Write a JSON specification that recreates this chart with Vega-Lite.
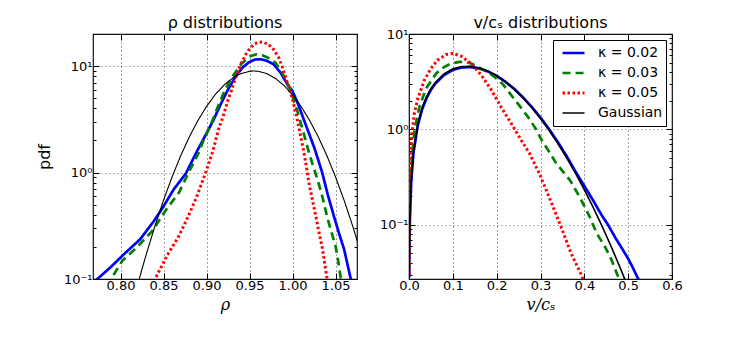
{
  "$schema": "https://vega.github.io/schema/vega-lite/v6.json",
  "autosize": {"type": "none"},
  "padding": {"left": 93, "top": 34, "right": 654, "bottom": 316},
  "spacing": 52,
  "bounds": "flush",
  "config": {
    "font": "DejaVu Sans",
    "view": {"stroke": "#111", "strokeWidth": 1.2},
    "axis": {"domain": false, "labelFont": "DejaVu Sans", "labelFontSize": 13, "labelColor": "#000", "tickColor": "#000", "tickSize": -5, "gridColor": "#000", "gridDash": [1, 3], "gridOpacity": 0.75, "gridWidth": 1, "titleFontWeight": "normal", "titleColor": "#000", "labelOverlap": false, "labelFlush": false},
    "axisX": {"labelPadding": 6},
    "axisY": {"labelPadding": 7},
    "legend": {"title": null, "orient": "top-right", "offset": 6, "strokeColor": "#000", "fillColor": "#fff", "padding": 3, "labelFont": "DejaVu Sans", "labelFontSize": 14, "labelColor": "#000", "symbolType": "stroke", "symbolSize": 484, "symbolOffset": 5, "labelOffset": 12, "clipHeight": 20, "rowPadding": 0, "cornerRadius": 0, "labelExpr": "datum.label + '\u2002'"},
    "title": {"font": "DejaVu Sans", "fontSize": 16, "fontWeight": "normal", "color": "#000", "offset": -3, "baseline": "alphabetic"}
  },
  "datasets": {
    "rho": [
      {"s": "κ = 0.02", "x": 0.765, "y": 0.085}, {"s": "κ = 0.02", "x": 0.773, "y": 0.1}, {"s": "κ = 0.02", "x": 0.788, "y": 0.128}, {"s": "κ = 0.02", "x": 0.804, "y": 0.171}, {"s": "κ = 0.02", "x": 0.823, "y": 0.237}, {"s": "κ = 0.02", "x": 0.839, "y": 0.352}, {"s": "κ = 0.02", "x": 0.848, "y": 0.453}, {"s": "κ = 0.02", "x": 0.862, "y": 0.697}, {"s": "κ = 0.02", "x": 0.876, "y": 0.98}, {"s": "κ = 0.02", "x": 0.889, "y": 1.59}, {"s": "κ = 0.02", "x": 0.899, "y": 2.25}, {"s": "κ = 0.02", "x": 0.9085, "y": 3.16}, {"s": "κ = 0.02", "x": 0.916, "y": 4.3}, {"s": "κ = 0.02", "x": 0.924, "y": 5.8}, {"s": "κ = 0.02", "x": 0.934, "y": 8.06}, {"s": "κ = 0.02", "x": 0.942, "y": 9.7}, {"s": "κ = 0.02", "x": 0.949, "y": 10.8}, {"s": "κ = 0.02", "x": 0.956, "y": 11.5}, {"s": "κ = 0.02", "x": 0.963, "y": 11.6}, {"s": "κ = 0.02", "x": 0.97, "y": 11.2}, {"s": "κ = 0.02", "x": 0.978, "y": 10.4}, {"s": "κ = 0.02", "x": 0.986, "y": 8.7}, {"s": "κ = 0.02", "x": 0.994, "y": 6.74}, {"s": "κ = 0.02", "x": 1.0, "y": 5.83}, {"s": "κ = 0.02", "x": 1.007, "y": 4.3}, {"s": "κ = 0.02", "x": 1.013, "y": 3.16}, {"s": "κ = 0.02", "x": 1.019, "y": 2.35}, {"s": "κ = 0.02", "x": 1.026, "y": 1.65}, {"s": "κ = 0.02", "x": 1.0345, "y": 1.0}, {"s": "κ = 0.02", "x": 1.041, "y": 0.62}, {"s": "κ = 0.02", "x": 1.048, "y": 0.392}, {"s": "κ = 0.02", "x": 1.054, "y": 0.27}, {"s": "κ = 0.02", "x": 1.06, "y": 0.19}, {"s": "κ = 0.02", "x": 1.0674, "y": 0.103}, {"s": "κ = 0.02", "x": 1.07, "y": 0.088},
      {"s": "κ = 0.03", "x": 0.785, "y": 0.085}, {"s": "κ = 0.03", "x": 0.79, "y": 0.103}, {"s": "κ = 0.03", "x": 0.802, "y": 0.148}, {"s": "κ = 0.03", "x": 0.819, "y": 0.198}, {"s": "κ = 0.03", "x": 0.837, "y": 0.283}, {"s": "κ = 0.03", "x": 0.852, "y": 0.436}, {"s": "κ = 0.03", "x": 0.868, "y": 0.649}, {"s": "κ = 0.03", "x": 0.881, "y": 1.07}, {"s": "κ = 0.03", "x": 0.891, "y": 1.54}, {"s": "κ = 0.03", "x": 0.897, "y": 2.05}, {"s": "κ = 0.03", "x": 0.905, "y": 2.8}, {"s": "κ = 0.03", "x": 0.912, "y": 3.93}, {"s": "κ = 0.03", "x": 0.92, "y": 5.6}, {"s": "κ = 0.03", "x": 0.926, "y": 7.0}, {"s": "κ = 0.03", "x": 0.932, "y": 8.36}, {"s": "κ = 0.03", "x": 0.941, "y": 10.6}, {"s": "κ = 0.03", "x": 0.951, "y": 12.4}, {"s": "κ = 0.03", "x": 0.958, "y": 12.9}, {"s": "κ = 0.03", "x": 0.965, "y": 12.6}, {"s": "κ = 0.03", "x": 0.972, "y": 11.9}, {"s": "κ = 0.03", "x": 0.98, "y": 10.8}, {"s": "κ = 0.03", "x": 0.987, "y": 9.0}, {"s": "κ = 0.03", "x": 0.994, "y": 6.98}, {"s": "κ = 0.03", "x": 1.0, "y": 5.2}, {"s": "κ = 0.03", "x": 1.005, "y": 3.93}, {"s": "κ = 0.03", "x": 1.01, "y": 2.85}, {"s": "κ = 0.03", "x": 1.015, "y": 2.05}, {"s": "κ = 0.03", "x": 1.019, "y": 1.55}, {"s": "κ = 0.03", "x": 1.024, "y": 1.15}, {"s": "κ = 0.03", "x": 1.029, "y": 0.866}, {"s": "κ = 0.03", "x": 1.035, "y": 0.58}, {"s": "κ = 0.03", "x": 1.04, "y": 0.392}, {"s": "κ = 0.03", "x": 1.045, "y": 0.28}, {"s": "κ = 0.03", "x": 1.05, "y": 0.205}, {"s": "κ = 0.03", "x": 1.053, "y": 0.15}, {"s": "κ = 0.03", "x": 1.056, "y": 0.103}, {"s": "κ = 0.03", "x": 1.058, "y": 0.085},
      {"s": "κ = 0.05", "x": 0.838, "y": 0.085}, {"s": "κ = 0.05", "x": 0.841, "y": 0.103}, {"s": "κ = 0.05", "x": 0.854, "y": 0.165}, {"s": "κ = 0.05", "x": 0.868, "y": 0.254}, {"s": "κ = 0.05", "x": 0.879, "y": 0.392}, {"s": "κ = 0.05", "x": 0.889, "y": 0.603}, {"s": "κ = 0.05", "x": 0.899, "y": 1.0}, {"s": "κ = 0.05", "x": 0.907, "y": 1.55}, {"s": "κ = 0.05", "x": 0.914, "y": 2.55}, {"s": "κ = 0.05", "x": 0.92, "y": 3.5}, {"s": "κ = 0.05", "x": 0.924, "y": 4.54}, {"s": "κ = 0.05", "x": 0.928, "y": 5.6}, {"s": "κ = 0.05", "x": 0.934, "y": 7.8}, {"s": "κ = 0.05", "x": 0.94, "y": 10.5}, {"s": "κ = 0.05", "x": 0.946, "y": 13.0}, {"s": "κ = 0.05", "x": 0.951, "y": 14.9}, {"s": "κ = 0.05", "x": 0.956, "y": 16.2}, {"s": "κ = 0.05", "x": 0.961, "y": 16.8}, {"s": "κ = 0.05", "x": 0.966, "y": 16.7}, {"s": "κ = 0.05", "x": 0.972, "y": 16.0}, {"s": "κ = 0.05", "x": 0.978, "y": 14.3}, {"s": "κ = 0.05", "x": 0.984, "y": 12.0}, {"s": "κ = 0.05", "x": 0.989, "y": 9.4}, {"s": "κ = 0.05", "x": 0.994, "y": 6.98}, {"s": "κ = 0.05", "x": 1.0, "y": 4.87}, {"s": "κ = 0.05", "x": 1.004, "y": 3.6}, {"s": "κ = 0.05", "x": 1.007, "y": 2.74}, {"s": "κ = 0.05", "x": 1.01, "y": 2.1}, {"s": "κ = 0.05", "x": 1.013, "y": 1.6}, {"s": "κ = 0.05", "x": 1.016, "y": 1.15}, {"s": "κ = 0.05", "x": 1.019, "y": 0.806}, {"s": "κ = 0.05", "x": 1.023, "y": 0.56}, {"s": "κ = 0.05", "x": 1.027, "y": 0.392}, {"s": "κ = 0.05", "x": 1.031, "y": 0.27}, {"s": "κ = 0.05", "x": 1.035, "y": 0.19}, {"s": "κ = 0.05", "x": 1.038, "y": 0.13}, {"s": "κ = 0.05", "x": 1.04, "y": 0.103}, {"s": "κ = 0.05", "x": 1.042, "y": 0.085},
      {"s": "Gaussian", "x": 0.815, "y": 0.0624}, {"s": "Gaussian", "x": 0.82, "y": 0.0884}, {"s": "Gaussian", "x": 0.825, "y": 0.124}, {"s": "Gaussian", "x": 0.83, "y": 0.171}, {"s": "Gaussian", "x": 0.84, "y": 0.314}, {"s": "Gaussian", "x": 0.85, "y": 0.549}, {"s": "Gaussian", "x": 0.86, "y": 0.911}, {"s": "Gaussian", "x": 0.87, "y": 1.439}, {"s": "Gaussian", "x": 0.88, "y": 2.159}, {"s": "Gaussian", "x": 0.89, "y": 3.079}, {"s": "Gaussian", "x": 0.9, "y": 4.174}, {"s": "Gaussian", "x": 0.91, "y": 5.38}, {"s": "Gaussian", "x": 0.92, "y": 6.589}, {"s": "Gaussian", "x": 0.93, "y": 7.672}, {"s": "Gaussian", "x": 0.94, "y": 8.491}, {"s": "Gaussian", "x": 0.95, "y": 8.933}, {"s": "Gaussian", "x": 0.955, "y": 8.99}, {"s": "Gaussian", "x": 0.96, "y": 8.933}, {"s": "Gaussian", "x": 0.97, "y": 8.491}, {"s": "Gaussian", "x": 0.98, "y": 7.672}, {"s": "Gaussian", "x": 0.99, "y": 6.589}, {"s": "Gaussian", "x": 1.0, "y": 5.38}, {"s": "Gaussian", "x": 1.01, "y": 4.174}, {"s": "Gaussian", "x": 1.02, "y": 3.079}, {"s": "Gaussian", "x": 1.03, "y": 2.159}, {"s": "Gaussian", "x": 1.04, "y": 1.439}, {"s": "Gaussian", "x": 1.05, "y": 0.911}, {"s": "Gaussian", "x": 1.06, "y": 0.549}, {"s": "Gaussian", "x": 1.07, "y": 0.314}, {"s": "Gaussian", "x": 1.08, "y": 0.171}
    ],
    "vel": [
      {"s": "κ = 0.02", "x": 0.0005, "y": 0.028}, {"s": "κ = 0.02", "x": 0.001, "y": 0.056}, {"s": "κ = 0.02", "x": 0.002, "y": 0.11}, {"s": "κ = 0.02", "x": 0.005, "y": 0.28}, {"s": "κ = 0.02", "x": 0.01, "y": 0.56}, {"s": "κ = 0.02", "x": 0.02, "y": 1.1}, {"s": "κ = 0.02", "x": 0.03, "y": 1.63}, {"s": "κ = 0.02", "x": 0.04, "y": 2.13}, {"s": "κ = 0.02", "x": 0.05, "y": 2.6}, {"s": "κ = 0.02", "x": 0.06, "y": 3.02}, {"s": "κ = 0.02", "x": 0.08, "y": 3.72}, {"s": "κ = 0.02", "x": 0.1, "y": 4.2}, {"s": "κ = 0.02", "x": 0.12, "y": 4.45}, {"s": "κ = 0.02", "x": 0.14, "y": 4.5}, {"s": "κ = 0.02", "x": 0.16, "y": 4.36}, {"s": "κ = 0.02", "x": 0.18, "y": 4.05}, {"s": "κ = 0.02", "x": 0.2, "y": 3.64}, {"s": "κ = 0.02", "x": 0.22, "y": 3.16}, {"s": "κ = 0.02", "x": 0.24, "y": 2.66}, {"s": "κ = 0.02", "x": 0.26, "y": 2.17}, {"s": "κ = 0.02", "x": 0.28, "y": 1.72}, {"s": "κ = 0.02", "x": 0.3, "y": 1.33}, {"s": "κ = 0.02", "x": 0.32, "y": 1.0}, {"s": "κ = 0.02", "x": 0.34, "y": 0.73}, {"s": "κ = 0.02", "x": 0.36, "y": 0.52}, {"s": "κ = 0.02", "x": 0.38, "y": 0.36}, {"s": "κ = 0.02", "x": 0.4, "y": 0.255}, {"s": "κ = 0.02", "x": 0.42, "y": 0.18}, {"s": "κ = 0.02", "x": 0.44, "y": 0.125}, {"s": "κ = 0.02", "x": 0.454, "y": 0.1}, {"s": "κ = 0.02", "x": 0.47, "y": 0.074}, {"s": "κ = 0.02", "x": 0.488, "y": 0.0545}, {"s": "κ = 0.02", "x": 0.5, "y": 0.044}, {"s": "κ = 0.02", "x": 0.51, "y": 0.036}, {"s": "κ = 0.02", "x": 0.523, "y": 0.027}, {"s": "κ = 0.02", "x": 0.53, "y": 0.024},
      {"s": "κ = 0.03", "x": 0.0005, "y": 0.035}, {"s": "κ = 0.03", "x": 0.001, "y": 0.07}, {"s": "κ = 0.03", "x": 0.002, "y": 0.15}, {"s": "κ = 0.03", "x": 0.005, "y": 0.4}, {"s": "κ = 0.03", "x": 0.0123, "y": 0.98}, {"s": "κ = 0.03", "x": 0.0238, "y": 1.72}, {"s": "κ = 0.03", "x": 0.039, "y": 2.69}, {"s": "κ = 0.03", "x": 0.05, "y": 3.2}, {"s": "κ = 0.03", "x": 0.062, "y": 3.86}, {"s": "κ = 0.03", "x": 0.08, "y": 4.5}, {"s": "κ = 0.03", "x": 0.096, "y": 4.91}, {"s": "κ = 0.03", "x": 0.115, "y": 5.1}, {"s": "κ = 0.03", "x": 0.13, "y": 5.1}, {"s": "κ = 0.03", "x": 0.145, "y": 4.85}, {"s": "κ = 0.03", "x": 0.157, "y": 4.52}, {"s": "κ = 0.03", "x": 0.175, "y": 4.1}, {"s": "κ = 0.03", "x": 0.195, "y": 3.56}, {"s": "κ = 0.03", "x": 0.215, "y": 2.95}, {"s": "κ = 0.03", "x": 0.233, "y": 2.29}, {"s": "κ = 0.03", "x": 0.255, "y": 1.7}, {"s": "κ = 0.03", "x": 0.271, "y": 1.36}, {"s": "κ = 0.03", "x": 0.29, "y": 1.0}, {"s": "κ = 0.03", "x": 0.302, "y": 0.78}, {"s": "κ = 0.03", "x": 0.32, "y": 0.58}, {"s": "κ = 0.03", "x": 0.336, "y": 0.44}, {"s": "κ = 0.03", "x": 0.35, "y": 0.367}, {"s": "κ = 0.03", "x": 0.367, "y": 0.294}, {"s": "κ = 0.03", "x": 0.389, "y": 0.197}, {"s": "κ = 0.03", "x": 0.412, "y": 0.122}, {"s": "κ = 0.03", "x": 0.428, "y": 0.0815}, {"s": "κ = 0.03", "x": 0.447, "y": 0.059}, {"s": "κ = 0.03", "x": 0.462, "y": 0.0428}, {"s": "κ = 0.03", "x": 0.477, "y": 0.0286}, {"s": "κ = 0.03", "x": 0.481, "y": 0.025},
      {"s": "κ = 0.05", "x": 0.0003, "y": 0.03}, {"s": "κ = 0.05", "x": 0.001, "y": 0.15}, {"s": "κ = 0.05", "x": 0.003, "y": 0.45}, {"s": "κ = 0.05", "x": 0.006, "y": 0.85}, {"s": "κ = 0.05", "x": 0.012, "y": 1.45}, {"s": "κ = 0.05", "x": 0.02, "y": 2.1}, {"s": "κ = 0.05", "x": 0.035, "y": 3.28}, {"s": "κ = 0.05", "x": 0.05, "y": 4.35}, {"s": "κ = 0.05", "x": 0.065, "y": 5.32}, {"s": "κ = 0.05", "x": 0.085, "y": 6.1}, {"s": "κ = 0.05", "x": 0.1, "y": 6.25}, {"s": "κ = 0.05", "x": 0.119, "y": 5.86}, {"s": "κ = 0.05", "x": 0.142, "y": 4.91}, {"s": "κ = 0.05", "x": 0.165, "y": 3.7}, {"s": "κ = 0.05", "x": 0.188, "y": 2.58}, {"s": "κ = 0.05", "x": 0.21, "y": 1.72}, {"s": "κ = 0.05", "x": 0.233, "y": 1.16}, {"s": "κ = 0.05", "x": 0.256, "y": 0.77}, {"s": "κ = 0.05", "x": 0.275, "y": 0.56}, {"s": "κ = 0.05", "x": 0.298, "y": 0.34}, {"s": "κ = 0.05", "x": 0.325, "y": 0.17}, {"s": "κ = 0.05", "x": 0.345, "y": 0.1}, {"s": "κ = 0.05", "x": 0.37, "y": 0.05}, {"s": "κ = 0.05", "x": 0.393, "y": 0.03}, {"s": "κ = 0.05", "x": 0.397, "y": 0.027}, {"s": "κ = 0.05", "x": 0.4, "y": 0.025},
      {"s": "Gaussian", "x": 0.0005, "y": 0.0287}, {"s": "Gaussian", "x": 0.001, "y": 0.0574}, {"s": "Gaussian", "x": 0.002, "y": 0.1148}, {"s": "Gaussian", "x": 0.005, "y": 0.2868}, {"s": "Gaussian", "x": 0.01, "y": 0.5723}, {"s": "Gaussian", "x": 0.02, "y": 1.1347}, {"s": "Gaussian", "x": 0.03, "y": 1.6779}, {"s": "Gaussian", "x": 0.04, "y": 2.1927}, {"s": "Gaussian", "x": 0.05, "y": 2.671}, {"s": "Gaussian", "x": 0.06, "y": 3.1055}, {"s": "Gaussian", "x": 0.08, "y": 3.8211}, {"s": "Gaussian", "x": 0.1, "y": 4.3076}, {"s": "Gaussian", "x": 0.12, "y": 4.5559}, {"s": "Gaussian", "x": 0.14, "y": 4.5783}, {"s": "Gaussian", "x": 0.16, "y": 4.4048}, {"s": "Gaussian", "x": 0.18, "y": 4.0769}, {"s": "Gaussian", "x": 0.2, "y": 3.6421}, {"s": "Gaussian", "x": 0.22, "y": 3.1483}, {"s": "Gaussian", "x": 0.24, "y": 2.6372}, {"s": "Gaussian", "x": 0.26, "y": 2.1444}, {"s": "Gaussian", "x": 0.28, "y": 1.6939}, {"s": "Gaussian", "x": 0.3, "y": 1.301}, {"s": "Gaussian", "x": 0.32, "y": 0.972}, {"s": "Gaussian", "x": 0.34, "y": 0.7072}, {"s": "Gaussian", "x": 0.36, "y": 0.5012}, {"s": "Gaussian", "x": 0.38, "y": 0.3459}, {"s": "Gaussian", "x": 0.4, "y": 0.2327}, {"s": "Gaussian", "x": 0.42, "y": 0.1527}, {"s": "Gaussian", "x": 0.44, "y": 0.0976}, {"s": "Gaussian", "x": 0.46, "y": 0.0609}, {"s": "Gaussian", "x": 0.48, "y": 0.037}, {"s": "Gaussian", "x": 0.5, "y": 0.022}, {"s": "Gaussian", "x": 0.51, "y": 0.0168}
    ]
  },
  "hconcat": [
    {
      "width": 264, "height": 245,
      "title": {"text": "ρ distributions"},
      "data": {"name": "rho"},
      "layer": [
        {
          "mark": {"type": "line", "clip": true},
          "encoding": {
            "x": {"field": "x", "type": "quantitative", "scale": {"domain": [0.768, 1.075], "nice": false, "zero": false},
                  "axis": {"values": [0.8, 0.85, 0.9, 0.95, 1.0, 1.05], "format": ".2f", "title": "ρ", "titleFont": "DejaVu Serif", "titleFontStyle": "italic", "titleFontSize": 16, "titlePadding": 4, "tickSize": -6}},
            "y": {"field": "y", "type": "quantitative", "scale": {"type": "log", "domain": [0.1, 20], "nice": false},
                  "axis": {"values": [0.1, 0.2, 0.3, 0.4, 0.5, 0.6, 0.7, 0.8, 0.9, 1, 2, 3, 4, 5, 6, 7, 8, 9, 10, 20],
                           "labelExpr": "datum.value == 0.1 ? '10⁻¹' : datum.value == 1 ? '10⁰' : datum.value == 10 ? '10¹' : ''",
                           "gridOpacity": {"condition": {"test": "datum.value == 1 || datum.value == 10", "value": 0.75}, "value": 0},
                           "tickSize": {"condition": {"test": "datum.value == 0.1 || datum.value == 1 || datum.value == 10", "value": -6}, "value": -3},
                           "title": "pdf", "titleFontSize": 16, "titlePadding": 11}},
            "color": {"field": "s", "type": "nominal", "scale": {"domain": ["κ = 0.02", "κ = 0.03", "κ = 0.05", "Gaussian"], "range": ["#0000ff", "#008000", "#ff0000", "#000000"]}, "legend": null},
            "strokeDash": {"field": "s", "type": "nominal", "scale": {"domain": ["κ = 0.02", "κ = 0.03", "κ = 0.05", "Gaussian"], "range": [[1, 0], [8, 5], [2.5, 2.5], [1, 0]]}, "legend": null},
            "strokeWidth": {"field": "s", "type": "nominal", "scale": {"type": "ordinal", "domain": ["κ = 0.02", "κ = 0.03", "κ = 0.05", "Gaussian"], "range": [2.7, 2.7, 3, 1.1]}, "legend": null}
          }
        },
        {
          "mark": {"type": "line", "opacity": 0},
          "encoding": {
            "x": {"field": "x", "type": "quantitative", "axis": {"orient": "top", "values": [0.8, 0.85, 0.9, 0.95, 1.0, 1.05], "labels": false, "grid": false, "title": null, "tickSize": -6}},
            "y": {"field": "y", "type": "quantitative",
                  "axis": {"orient": "right", "values": [0.1, 0.2, 0.3, 0.4, 0.5, 0.6, 0.7, 0.8, 0.9, 1, 2, 3, 4, 5, 6, 7, 8, 9, 10, 20], "labels": false, "grid": false, "title": null,
                           "tickSize": {"condition": {"test": "datum.value == 0.1 || datum.value == 1 || datum.value == 10", "value": -6}, "value": -3}}},
            "detail": {"field": "s", "type": "nominal"}
          }
        }
      ],
      "resolve": {"axis": {"x": "independent", "y": "independent"}}
    },
    {
      "width": 263, "height": 245,
      "title": {"text": "v/cₛ distributions"},
      "data": {"name": "vel"},
      "layer": [
        {
          "mark": {"type": "line", "clip": true},
          "encoding": {
            "x": {"field": "x", "type": "quantitative", "scale": {"domain": [0, 0.6], "nice": false, "zero": false},
                  "axis": {"values": [0, 0.1, 0.2, 0.3, 0.4, 0.5, 0.6], "format": ".1f", "title": "v/cₛ", "titleFont": "DejaVu Serif", "titleFontStyle": "italic", "titleFontSize": 16, "titlePadding": 4, "tickSize": -6}},
            "y": {"field": "y", "type": "quantitative", "scale": {"type": "log", "domain": [0.027, 10], "nice": false},
                  "axis": {"values": [0.03, 0.04, 0.05, 0.06, 0.07, 0.08, 0.09, 0.1, 0.2, 0.3, 0.4, 0.5, 0.6, 0.7, 0.8, 0.9, 1, 2, 3, 4, 5, 6, 7, 8, 9, 10],
                           "labelExpr": "datum.value == 0.1 ? '10⁻¹' : datum.value == 1 ? '10⁰' : datum.value == 10 ? '10¹' : ''",
                           "gridOpacity": {"condition": {"test": "datum.value == 0.1 || datum.value == 1", "value": 0.75}, "value": 0},
                           "tickSize": {"condition": {"test": "datum.value == 0.1 || datum.value == 1 || datum.value == 10", "value": -6}, "value": -3},
                           "title": null}},
            "color": {"field": "s", "type": "nominal", "scale": {"domain": ["κ = 0.02", "κ = 0.03", "κ = 0.05", "Gaussian"], "range": ["#0000ff", "#008000", "#ff0000", "#000000"]}, "legend": {}},
            "strokeDash": {"field": "s", "type": "nominal", "scale": {"domain": ["κ = 0.02", "κ = 0.03", "κ = 0.05", "Gaussian"], "range": [[1, 0], [8, 5], [2.5, 2.5], [1, 0]]}, "legend": {}},
            "strokeWidth": {"field": "s", "type": "nominal", "scale": {"type": "ordinal", "domain": ["κ = 0.02", "κ = 0.03", "κ = 0.05", "Gaussian"], "range": [2.7, 2.7, 3, 1.6]}, "legend": {}}
          }
        },
        {
          "mark": {"type": "line", "opacity": 0},
          "encoding": {
            "x": {"field": "x", "type": "quantitative", "axis": {"orient": "top", "values": [0, 0.1, 0.2, 0.3, 0.4, 0.5, 0.6], "labels": false, "grid": false, "title": null, "tickSize": -6}},
            "y": {"field": "y", "type": "quantitative",
                  "axis": {"orient": "right", "values": [0.03, 0.04, 0.05, 0.06, 0.07, 0.08, 0.09, 0.1, 0.2, 0.3, 0.4, 0.5, 0.6, 0.7, 0.8, 0.9, 1, 2, 3, 4, 5, 6, 7, 8, 9, 10], "labels": false, "grid": false, "title": null,
                           "tickSize": {"condition": {"test": "datum.value == 0.1 || datum.value == 1 || datum.value == 10", "value": -6}, "value": -3}}},
            "detail": {"field": "s", "type": "nominal"}
          }
        }
      ],
      "resolve": {"axis": {"x": "independent", "y": "independent"}}
    }
  ],
  "resolve": {"scale": {"color": "independent", "strokeDash": "independent", "strokeWidth": "independent"}, "legend": {"color": "independent", "strokeDash": "independent", "strokeWidth": "independent"}}
}
